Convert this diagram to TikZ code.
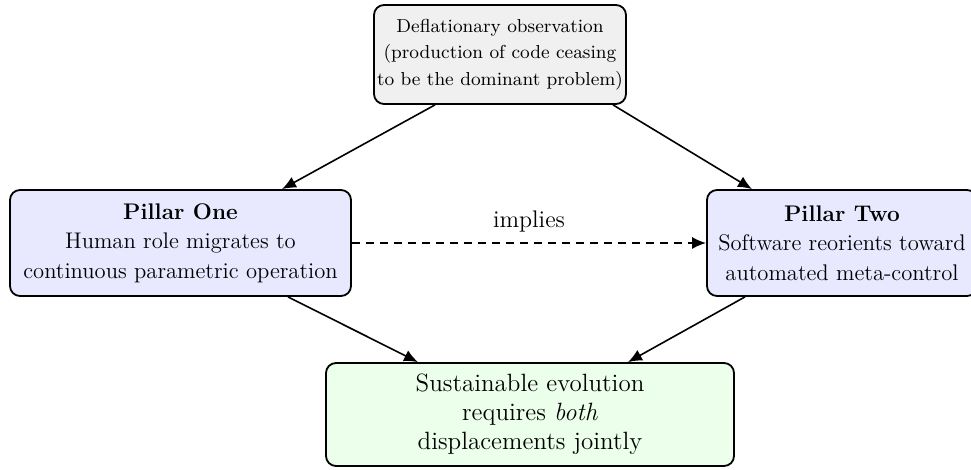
\documentclass[tikz,border=0pt]{standalone}
\usetikzlibrary{calc,arrows.meta}
\begin{document}
\begin{tikzpicture}[x=0.5pt,y=-0.5pt,
  box/.style={draw=black,line width=0.9pt,rounded corners=5pt,align=center,inner sep=0pt},
  arr/.style={line width=0.8pt,-{Latex[length=7pt,width=6pt]}}]
\useasboundingbox (0,0) rectangle (971,470);
\node[box,fill=black!6,minimum width=126pt,minimum height=49.5pt,font=\fontsize{9.4}{13.2}\selectfont] (top) at (500,54.5)
  {Deflationary observation\\ (production of code ceasing\\ to be the dominant problem)};
\node[box,fill=blue!9,minimum width=170.5pt,minimum height=53pt,font=\fontsize{11.3}{14.8}\selectfont] (p1) at (180.5,243)
  {\textbf{Pillar One}\\ Human role migrates to\\ continuous parametric operation};
\node[box,fill=blue!9,minimum width=135pt,minimum height=53pt,font=\fontsize{11.3}{14.8}\selectfont] (p2) at (842,243)
  {\textbf{Pillar Two}\\ Software reorients toward\\ automated meta-control};
\node[box,fill=green!8,minimum width=204pt,minimum height=51.5pt,font=\fontsize{12.5}{14.6}\selectfont] (bot) at (530,414.5)
  {\rule{0pt}{4pt}Sustainable evolution\\ requires \textit{both}\\ displacements jointly};
\draw[arr] ($(top.south)+(-65,0)$) -- ($(p1.north)+(101.5,0)$);
\draw[arr] ($(top.south)+(113,0)$) -- ($(p2.north)+(-90,0)$);
\draw[arr] ($(p1.south)+(107.5,0)$) -- ($(bot.north)+(-112,0)$);
\draw[arr] ($(p2.south)+(-97,0)$) -- ($(bot.north)+(98,0)$);
\draw[arr,dash pattern=on 4pt off 3pt] (p1.east) -- node[above=1.5pt,font=\fontsize{12}{14}\selectfont] (lbl) {implies} (p2.west);
\end{tikzpicture}
\end{document}
